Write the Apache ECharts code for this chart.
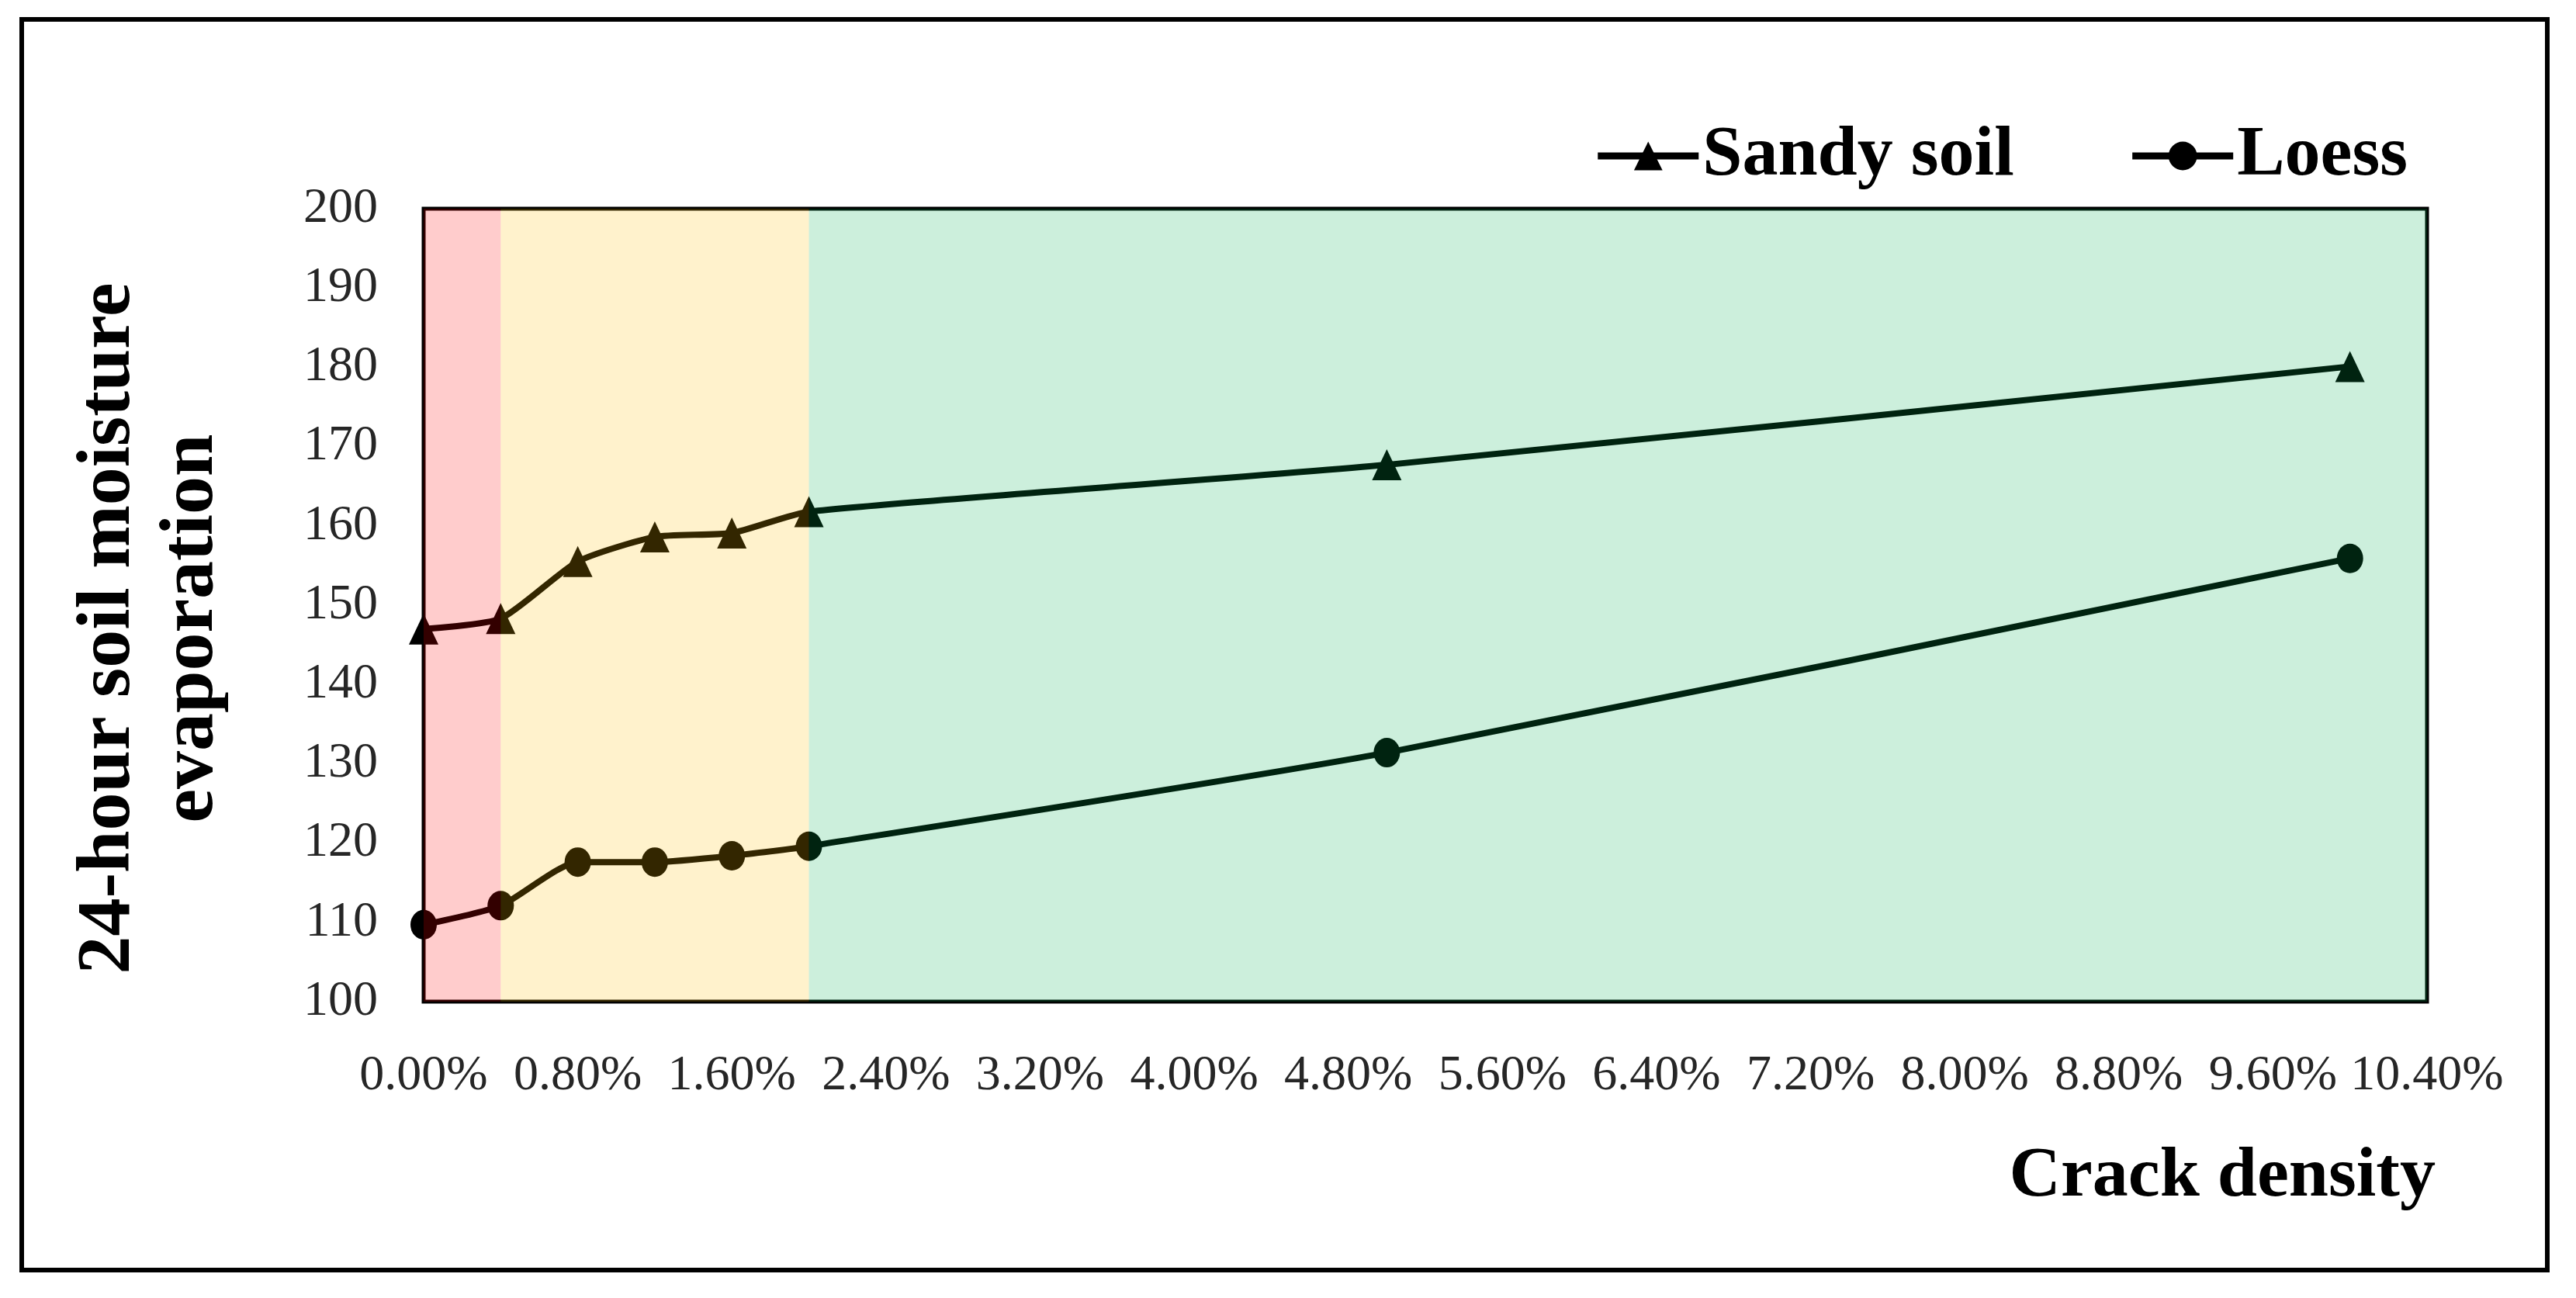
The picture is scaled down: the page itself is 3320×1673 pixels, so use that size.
<!DOCTYPE html>
<html>
<head>
<meta charset="utf-8">
<style>
  html, body { margin: 0; padding: 0; background: #ffffff; }
  #chart { width: 3320px; height: 1673px; }
</style>
<script src="https://cdn.jsdelivr.net/npm/echarts@6/dist/echarts.min.js"></script>
</head>
<body>
<div id="chart"></div>
<script>
// ---- data ----
const crackDensity = [0, 0.4, 0.8, 1.2, 1.6, 2.0, 5.0, 10.0];          // %
const sandySoil    = [147.0, 148.3, 155.5, 158.6, 159.1, 161.8, 167.7, 180.1];
const loess        = [109.7, 112.1, 117.6, 117.6, 118.4, 119.6, 131.4, 155.9];
const zoneBreaks   = [0, 0.4, 2.0, 10.4];                                // % (zone limits)
const zoneColors   = ['rgba(255,0,0,0.2)', 'rgba(255,192,0,0.2)', 'rgba(0,176,80,0.2)'];
const seriesNames  = ['Sandy soil', 'Loess'];
const xAxisTitle   = 'Crack density';
const yAxisTitle   = '24-hour soil moisture\nevaporation';

const FONT = "'Liberation Serif', 'Times New Roman', serif";

const pairs = (ys) => crackDensity.map((x, i) => [x, ys[i]]);
const zones = zoneColors.map((c, i) => [
  { xAxis: zoneBreaks[i], yAxis: 100, itemStyle: { color: c } },
  { xAxis: zoneBreaks[i + 1], yAxis: 200 }
]);

const chart = echarts.init(document.getElementById('chart'), null, { renderer: 'canvas' });
chart.setOption({
  backgroundColor: '#ffffff',
  animation: false,
  graphic: [{
    type: 'rect',
    shape: { x: 28, y: 25, width: 3255, height: 1612 },
    style: { fill: 'none', stroke: '#000', lineWidth: 6 },
    z: 0
  }],
  legend: {
    right: 212,
    top: 150,
    itemWidth: 130,
    itemHeight: 46,
    itemGap: 148,
    lineStyle: { width: 9, color: '#000' },
    textStyle: { fontFamily: FONT, fontWeight: 'bold', fontSize: 92, color: '#000' },
    data: seriesNames
  },
  grid: {
    left: 546, right: 192, top: 269, bottom: 382,
    show: true, borderColor: '#000', borderWidth: 5, backgroundColor: 'transparent',
    outerBoundsMode: 'none', containLabel: false
  },
  xAxis: {
    type: 'value',
    min: 0, max: 10.4, interval: 0.8,
    axisLine: { show: false },
    axisTick: { show: false },
    splitLine: { show: false },
    axisLabel: {
      margin: 64,
      fontFamily: FONT, fontSize: 64, color: '#262626',
      formatter: (v) => v.toFixed(2) + '%'
    },
    name: xAxisTitle,
    nameLocation: 'end',
    nameGap: 11,
    nameMoveOverlap: false,
    nameTextStyle: {
      fontFamily: FONT, fontWeight: 'bold', fontSize: 92, color: '#000',
      align: 'right', verticalAlign: 'top', lineHeight: 92, padding: [180, 0, 0, 0]
    }
  },
  yAxis: {
    type: 'value',
    min: 100, max: 200, interval: 10,
    axisLine: { show: false },
    axisTick: { show: false },
    splitLine: { show: false },
    axisLabel: { margin: 59, fontFamily: FONT, fontSize: 64, color: '#262626' },
    name: yAxisTitle,
    nameLocation: 'middle',
    nameRotate: 90,
    nameGap: 245,
    nameMoveOverlap: false,
    nameTextStyle: {
      fontFamily: FONT, fontWeight: 'bold', fontSize: 98, color: '#000',
      lineHeight: 107, padding: [0, 60, 0, 0]
    }
  },
  series: [
    {
      name: seriesNames[0],
      type: 'line',
      data: pairs(sandySoil),
      smooth: 0.2,
      symbol: 'triangle',
      symbolSize: [38, 40],
      lineStyle: { color: '#000', width: 8 },
      itemStyle: { color: '#000' },
      z: 3
    },
    {
      name: seriesNames[1],
      type: 'line',
      data: pairs(loess),
      smooth: 0.2,
      symbol: 'circle',
      symbolSize: [34, 38],
      lineStyle: { color: '#000', width: 8 },
      itemStyle: { color: '#000' },
      z: 3,
      markArea: {
        silent: true,
        z: 10,
        itemStyle: { borderWidth: 0 },
        data: zones
      }
    }
  ]
});
</script>
</body>
</html>
